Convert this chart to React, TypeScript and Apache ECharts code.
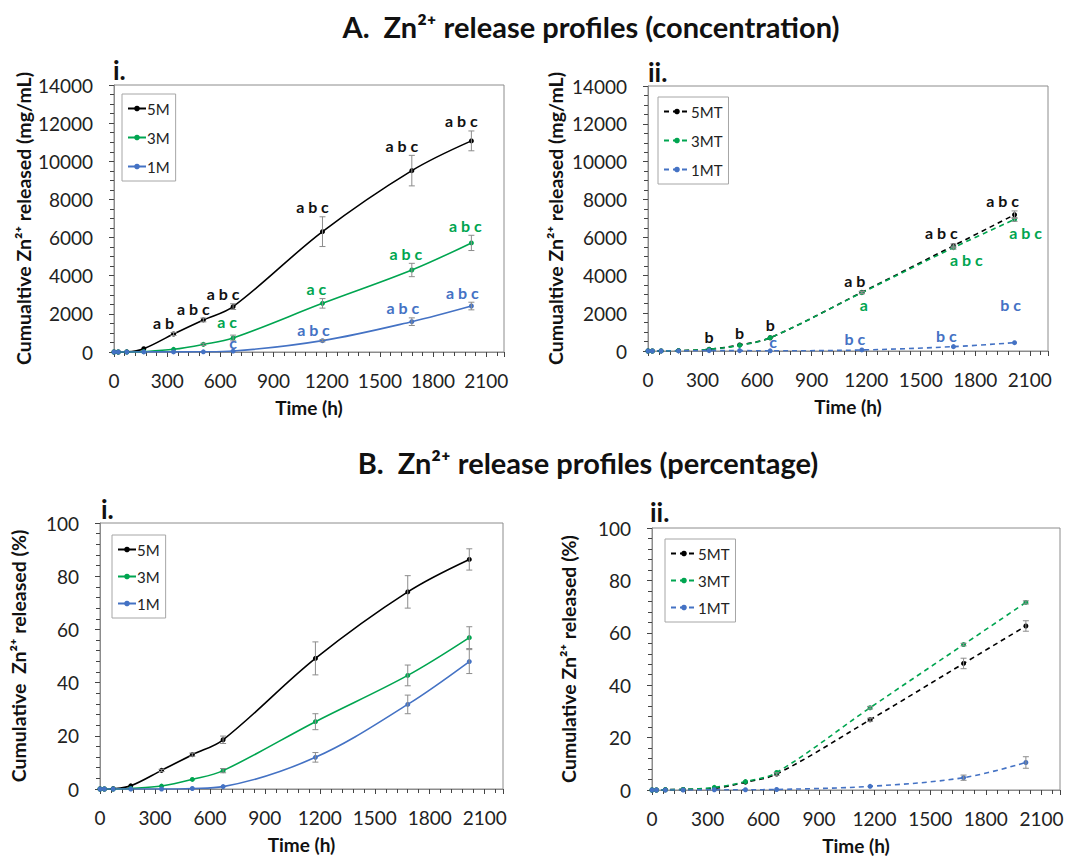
import React, { useEffect, useRef } from "react";
import * as echarts from "echarts";

// ---------- data ----------
const times = [0, 24, 72, 168, 336, 504, 672, 1176, 1680, 2016];

// A.i  cumulative Zn2+ released (mg/mL)
const concM5 = [0, 0, 10, 175, 945, 1680, 2380, 6310, 9510, 11070];
const concM3 = [0, 0, 0, 20, 140, 400, 735, 2550, 4300, 5720];
const concM1 = [0, 0, 0, 5, 5, 10, 50, 595, 1590, 2410];
const concErrM5 = [0, 0, 0, 30, 80, 100, 150, 780, 800, 520];
const concErrM3 = [0, 0, 0, 0, 30, 60, 150, 250, 350, 400];
const concErrM1 = [0, 0, 0, 0, 0, 0, 30, 60, 200, 200];

// A.ii
const concMT5 = [0, 0, 5, 20, 90, 320, 700, 3100, 5560, 7200];
const concMT3 = [0, 0, 5, 20, 90, 300, 700, 3080, 5460, 6950];
const concMT1 = [0, 0, 0, 5, 20, 20, 10, 55, 230, 440];
const concErrMT5 = [0, 0, 0, 0, 20, 30, 50, 60, 100, 200];
const concErrMT3 = [0, 0, 0, 0, 20, 30, 40, 60, 80, 100];
const concErrMT1 = [0, 0, 0, 0, 0, 0, 0, 10, 20, 30];

// B.i  cumulative Zn2+ released (%)
const pctM5 = [0, 0, 0.1, 1.2, 7.0, 12.9, 18.5, 49.1, 74.1, 86.3];
const pctM3 = [0, 0, 0, 0.2, 1.1, 3.6, 6.9, 25.3, 42.7, 56.9];
const pctM1 = [0, 0, 0, 0, 0, 0.2, 0.9, 11.9, 31.8, 47.9];
const pctErrM5 = [0, 0, 0, 0.2, 0.4, 0.6, 1.4, 6.2, 6.1, 4.0];
const pctErrM3 = [0, 0, 0, 0, 0.2, 0.3, 0.8, 3.0, 3.9, 4.1];
const pctErrM1 = [0, 0, 0, 0, 0, 0, 0.3, 1.8, 3.5, 4.5];

// B.ii
const pctMT5 = [0, 0, 0.1, 0.2, 0.6, 3.0, 6.1, 26.8, 48.3, 62.6];
const pctMT3 = [0, 0, 0.1, 0.2, 1.0, 3.2, 6.7, 31.4, 55.5, 71.6];
const pctMT1 = [0, 0, 0, 0, 0.1, 0.1, 0.2, 1.4, 4.7, 10.5];
const pctErrMT5 = [0, 0, 0, 0, 0.2, 0.3, 0.5, 0.6, 2.0, 2.0];
const pctErrMT3 = [0, 0, 0, 0, 0.1, 0.2, 0.3, 0.5, 0.5, 0.6];
const pctErrMT1 = [0, 0, 0, 0, 0, 0, 0, 0.2, 1.0, 2.2];

// significance letters
const lettersM5 = ["", "", "", "", "a b", "a b c", "a b c", "a b c", "a b c", "a b c"];
const lettersM3 = ["", "", "", "", "", "", "a c", "a c", "a b c", "a b c"];
const lettersM1 = ["", "", "", "", "", "", "c", "a b c", "a b c", "a b c"];
const lettersMT5 = ["", "", "", "", "b", "b", "b", "a b", "a b c", "a b c"];
const lettersMT3 = ["", "", "", "", "", "", "", "a", "a b c", "a b c"];
const lettersMT1 = ["", "", "", "", "", "", "c", "b c", "b c", "b c"];

const xTicks = [0, 300, 600, 900, 1200, 1500, 1800, 2100];
const titleA = "A.  Zn²⁺ release profiles (concentration)";
const titleB = "B.  Zn²⁺ release profiles (percentage)";

// ---------- style ----------
const FONT = "Lato, 'DejaVu Sans', sans-serif";
const C_BLACK = "#000000";
const C_GREEN = "#00a550";
const C_BLUE = "#4472c4";
const C_ERR = "#8c8c8c";
const C_AXIS = "#8c8c8c";

const grids = [
  { left: 114, top: 85, width: 390, height: 267 },
  { left: 648, top: 86, width: 400, height: 265 },
  { left: 100, top: 523, width: 403, height: 266 },
  { left: 652, top: 528, width: 408, height: 267 },
];

// label placement: [dx, dy, below]
type Place = [number, number, boolean?];
const defPlace = (dx: number, dy = -2): Place[] => times.map(() => [dx, dy]);

function lineSeries(name: string, k: number, data: number[], color: string, dashed: boolean) {
  return {
    type: "line",
    name,
    xAxisIndex: k,
    yAxisIndex: k,
    data: times.map((t, i) => [t, data[i]]),
    smooth: 0.35,
    symbol: "circle",
    symbolSize: 5,
    itemStyle: { color },
    lineStyle: { color, width: 1.6, type: dashed ? [5, 4] : "solid" },
    z: 2,
  };
}

function errorSeries(k: number, data: number[], err: number[]) {
  return {
    type: "custom",
    xAxisIndex: k,
    yAxisIndex: k,
    silent: true,
    z: 3,
    data: times.map((t, i) => [t, data[i], err[i]]),
    renderItem: (_p: any, api: any) => {
      const x = api.value(0);
      const y = api.value(1);
      const e = api.value(2);
      if (!e) return null;
      const hi = api.coord([x, y + e]);
      const lo = api.coord([x, y - e]);
      if (Math.abs(hi[1] - lo[1]) < 2) return null;
      const w = 3;
      const st = { stroke: C_ERR, lineWidth: 1 };
      return {
        type: "group",
        children: [
          { type: "line", shape: { x1: hi[0], y1: hi[1], x2: lo[0], y2: lo[1] }, style: st },
          { type: "line", shape: { x1: hi[0] - w, y1: hi[1], x2: hi[0] + w, y2: hi[1] }, style: st },
          { type: "line", shape: { x1: lo[0] - w, y1: lo[1], x2: lo[0] + w, y2: lo[1] }, style: st },
        ],
      };
    },
  };
}

function letterSeries(k: number, data: number[], err: number[], letters: string[], color: string, place: Place[]) {
  return {
    type: "custom",
    xAxisIndex: k,
    yAxisIndex: k,
    silent: true,
    clip: false,
    z: 4,
    data: times.map((t, i) => [t, data[i], err[i]]),
    renderItem: (p: any, api: any) => {
      const i = p.dataIndex;
      const txt = letters[i];
      if (!txt) return null;
      const [dx, dy, below] = place[i];
      const x = api.value(0);
      const y = api.value(1);
      const e = api.value(2);
      const pt = api.coord([x, below ? y - e : y + e]);
      return {
        type: "text",
        x: pt[0] + dx,
        y: pt[1] + dy,
        style: {
          text: txt,
          fill: color,
          font: `bold 16px ${FONT}`,
          align: "center",
          verticalAlign: below ? "top" : "bottom",
        },
      };
    },
  };
}

function xAxis(k: number) {
  return {
    type: "value",
    gridIndex: k,
    min: 0,
    max: 2200,
    interval: 300,
    name: "Time (h)",
    nameLocation: "middle",
    nameGap: 46,
    nameTextStyle: { fontFamily: FONT, fontWeight: "bold", fontSize: 19, color: "#111" },
    axisLine: { show: true, lineStyle: { color: C_AXIS, width: 1 } },
    axisTick: { show: true, length: 5, lineStyle: { color: "#444" } },
    minorTick: { show: true, splitNumber: 5, length: 4, lineStyle: { color: "#444" } },
    splitLine: { show: false },
    axisLabel: {
      showMaxLabel: false,
      margin: 19,
      fontFamily: FONT,
      fontSize: 19,
      color: "#222",
      formatter: (v: number) => (xTicks.includes(v) ? String(v) : ""),
    },
  };
}

function yAxis(k: number, max: number, interval: number, minor: number, name: string, nameGap: number) {
  return {
    type: "value",
    gridIndex: k,
    min: 0,
    max,
    interval,
    name,
    nameLocation: "middle",
    nameGap,
    nameTextStyle: { fontFamily: FONT, fontWeight: "bold", fontSize: 19.5, color: "#111" },
    axisLine: { show: true, lineStyle: { color: C_AXIS, width: 1 } },
    axisTick: { show: true, length: 5, lineStyle: { color: "#444" } },
    minorTick: { show: true, splitNumber: minor, length: 4, lineStyle: { color: "#444" } },
    splitLine: { show: false },
    axisLabel: {
      margin: 21,
      fontFamily: FONT,
      fontSize: 19,
      color: "#222",
      formatter: (v: number) => String(v),
    },
  };
}

function legend(names: string[], left: number, top: number, itemWidth: number, gap: number) {
  return {
    data: names,
    orient: "vertical",
    left,
    top,
    itemWidth,
    itemHeight: 7,
    itemGap: gap,
    padding: [7, 6, 7, 5],
    borderColor: "#a6a6a6",
    borderWidth: 1,
    borderRadius: 0,
    selectedMode: false,
    textStyle: { fontFamily: FONT, fontSize: 15, color: "#222", padding: [0, 0, 0, -4] },
  };
}

function panelLabel(text: string, x: number, y: number) {
  return {
    type: "text",
    x,
    y,
    style: { text, font: `bold 26px ${FONT}`, fill: "#111", verticalAlign: "middle" },
  };
}

export default function App() {
  const ref = useRef<HTMLDivElement>(null);
  useEffect(() => {
    if (!ref.current) return;
    const chart = echarts.init(ref.current, null, { renderer: "svg" });

    const placeM5 = defPlace(-10);
    const placeM3 = defPlace(-6);
    placeM3[6] = [-6, -6];
    const placeM1 = defPlace(-9);
    placeM1[6] = [0, 0];
    const placeMT5 = defPlace(0, -4);
    placeMT5[7] = [-7, -3];
    placeMT5[8] = [-12, -3];
    placeMT5[9] = [-12, -2];
    const placeMT3 = defPlace(0, 3);
    placeMT3[7] = [2, 3, true];
    placeMT3[8] = [13, 2, true];
    placeMT3[9] = [11, 3, true];
    const placeMT1 = defPlace(-7, -3);
    placeMT1[6] = [3, -1];
    placeMT1[9] = [-4, -30];

    const titleStyle = { font: `bold 29px ${FONT}`, fill: "#111", align: "center", verticalAlign: "middle" };

    const option: any = {
      animation: false,
      backgroundColor: "#ffffff",
      textStyle: { fontFamily: FONT },
      grid: grids.map((g) => ({ ...g, show: true, borderColor: C_AXIS, borderWidth: 1, backgroundColor: "transparent" })),
      xAxis: [xAxis(0), xAxis(1), xAxis(2), xAxis(3)],
      yAxis: [
        yAxis(0, 14000, 2000, 4, "Cumualtive Zn²⁺ released (mg/mL)", 79),
        yAxis(1, 14000, 2000, 4, "Cumualtive Zn²⁺ released (mg/mL)", 83),
        yAxis(2, 100, 20, 5, "Cumulative  Zn²⁺ released (%)", 72),
        yAxis(3, 100, 20, 5, "Cumulative Zn²⁺ released (%)", 74),
      ],
      legend: [
        legend(["5M", "3M", "1M"], 122, 94, 18, 14),
        legend(["5MT", "3MT", "1MT"], 658, 97, 26, 14),
        legend(["5M", "3M", "1M"], 112, 535, 18, 12),
        legend(["5MT", "3MT", "1MT"], 665, 539, 26, 12),
      ],
      graphic: [
        { type: "text", x: 591, y: 26, style: { ...titleStyle, text: titleA } },
        { type: "text", x: 588, y: 462, style: { ...titleStyle, text: titleB } },
        panelLabel("i.", 113, 70),
        panelLabel("ii.", 648, 72),
        panelLabel("i.", 101, 509),
        panelLabel("ii.", 650, 512),
      ],
      series: [
        // A.i
        lineSeries("5M", 0, concM5, C_BLACK, false),
        lineSeries("3M", 0, concM3, C_GREEN, false),
        lineSeries("1M", 0, concM1, C_BLUE, false),
        errorSeries(0, concM5, concErrM5),
        errorSeries(0, concM3, concErrM3),
        errorSeries(0, concM1, concErrM1),
        letterSeries(0, concM5, concErrM5, lettersM5, "#111", placeM5),
        letterSeries(0, concM3, concErrM3, lettersM3, C_GREEN, placeM3),
        letterSeries(0, concM1, concErrM1, lettersM1, C_BLUE, placeM1),
        // A.ii
        lineSeries("5MT", 1, concMT5, C_BLACK, true),
        lineSeries("3MT", 1, concMT3, C_GREEN, true),
        lineSeries("1MT", 1, concMT1, C_BLUE, true),
        errorSeries(1, concMT5, concErrMT5),
        errorSeries(1, concMT3, concErrMT3),
        errorSeries(1, concMT1, concErrMT1),
        letterSeries(1, concMT5, concErrMT5, lettersMT5, "#111", placeMT5),
        letterSeries(1, concMT3, concErrMT3, lettersMT3, C_GREEN, placeMT3),
        letterSeries(1, concMT1, concErrMT1, lettersMT1, C_BLUE, placeMT1),
        // B.i
        lineSeries("5M", 2, pctM5, C_BLACK, false),
        lineSeries("3M", 2, pctM3, C_GREEN, false),
        lineSeries("1M", 2, pctM1, C_BLUE, false),
        errorSeries(2, pctM5, pctErrM5),
        errorSeries(2, pctM3, pctErrM3),
        errorSeries(2, pctM1, pctErrM1),
        // B.ii
        lineSeries("5MT", 3, pctMT5, C_BLACK, true),
        lineSeries("3MT", 3, pctMT3, C_GREEN, true),
        lineSeries("1MT", 3, pctMT1, C_BLUE, true),
        errorSeries(3, pctMT5, pctErrMT5),
        errorSeries(3, pctMT3, pctErrMT3),
        errorSeries(3, pctMT1, pctErrMT1),
      ],
    };
    chart.setOption(option);
    return () => chart.dispose();
  }, []);

  return (
    <div
      ref={ref}
      style={{ position: "fixed", left: 0, top: 0, width: 1067, height: 856, background: "#fff" }}
    />
  );
}
